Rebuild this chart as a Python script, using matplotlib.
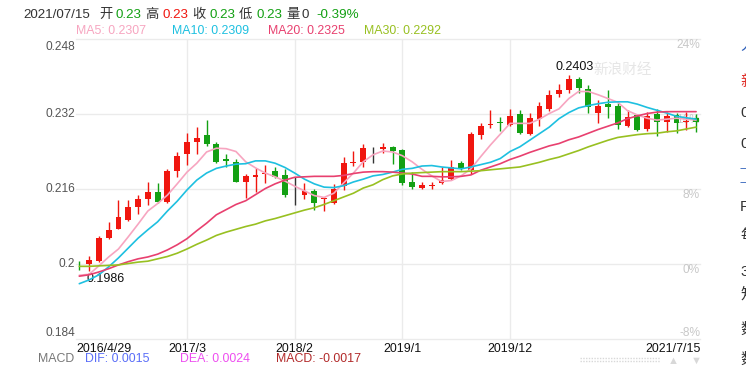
import matplotlib
matplotlib.use('Agg')
import matplotlib.pyplot as plt
import numpy as np

plt.rcParams['font.family'] = ['Liberation Sans', 'Noto Sans CJK SC', 'DejaVu Sans']

# ---------------- data (monthly candles 2016/4 .. 2021/7) ----------------
opens = [0.2001, 0.2000, 0.2007, 0.2056, 0.2074, 0.2094, 0.2122, 0.2138, 0.2154, 0.2132,
         0.2199, 0.2234, 0.2261, 0.2275, 0.2257, 0.2225, 0.2218, 0.2174, 0.2186, 0.2191,
         0.2199, 0.2190, 0.2151, 0.2148, 0.2156, 0.2138, 0.2130, 0.2166, 0.2216, 0.2218,
         0.2249, 0.2245, 0.2249, 0.2243, 0.2176, 0.2163, 0.2166, 0.2172, 0.2181, 0.2215,
         0.2201, 0.2275, 0.2297, 0.2304, 0.2297, 0.2321, 0.2277, 0.2309, 0.2331, 0.2362,
         0.2371, 0.2395, 0.2373, 0.2323, 0.2341, 0.2336, 0.2295, 0.2318, 0.2287, 0.2321,
         0.2304, 0.2318, 0.2303, 0.2311]
closes = [0.1999, 0.2009, 0.2056, 0.2073, 0.2100, 0.2121, 0.2138, 0.2154, 0.2132, 0.2198,
          0.2231, 0.2260, 0.2269, 0.2255, 0.2218, 0.2219, 0.2174, 0.2188, 0.2189, 0.2194,
          0.2186, 0.2147, 0.2151, 0.2156, 0.2130, 0.2140, 0.2161, 0.2216, 0.2218, 0.2247,
          0.2249, 0.2249, 0.2242, 0.2173, 0.2165, 0.2169, 0.2168, 0.2180, 0.2206, 0.2203,
          0.2277, 0.2294, 0.2299, 0.2301, 0.2316, 0.2280, 0.2311, 0.2337, 0.2361, 0.2371,
          0.2395, 0.2375, 0.2334, 0.2337, 0.2336, 0.2297, 0.2314, 0.2286, 0.2316, 0.2302,
          0.2316, 0.2301, 0.2306, 0.2302]
highs = [0.2006, 0.2018, 0.2060, 0.2090, 0.2137, 0.2137, 0.2147, 0.2176, 0.2173, 0.2202,
         0.2240, 0.2279, 0.2293, 0.2307, 0.2261, 0.2235, 0.2225, 0.2193, 0.2204, 0.2211,
         0.2206, 0.2203, 0.2185, 0.2172, 0.2161, 0.2142, 0.2170, 0.2229, 0.2241, 0.2256,
         0.2249, 0.2258, 0.2252, 0.2245, 0.2196, 0.2175, 0.2174, 0.2206, 0.2222, 0.2220,
         0.2282, 0.2301, 0.2329, 0.2314, 0.2330, 0.2329, 0.2323, 0.2345, 0.2371, 0.2384,
         0.2403, 0.2400, 0.2382, 0.2350, 0.2371, 0.2344, 0.2329, 0.2321, 0.2325, 0.2330,
         0.2325, 0.2322, 0.2325, 0.2320]
lows = [0.1988, 0.1986, 0.2005, 0.2053, 0.2074, 0.2092, 0.2107, 0.2126, 0.2131, 0.2131,
        0.2186, 0.2211, 0.2235, 0.2252, 0.2215, 0.2208, 0.2174, 0.2140, 0.2154, 0.2173,
        0.2183, 0.2144, 0.2126, 0.2139, 0.2115, 0.2113, 0.2128, 0.2158, 0.2210, 0.2208,
        0.2215, 0.2236, 0.2213, 0.2169, 0.2160, 0.2160, 0.2160, 0.2170, 0.2179, 0.2201,
        0.2192, 0.2266, 0.2290, 0.2284, 0.2294, 0.2277, 0.2275, 0.2294, 0.2327, 0.2357,
        0.2364, 0.2364, 0.2322, 0.2301, 0.2311, 0.2287, 0.2293, 0.2284, 0.2284, 0.2273,
        0.2282, 0.2279, 0.2286, 0.2282]

ma5 = [0.1976, 0.1978, 0.1996, 0.2015, 0.2032, 0.2058, 0.2085, 0.2113, 0.2129, 0.2147,
       0.2171, 0.2196, 0.2215, 0.2239, 0.2247, 0.2246, 0.2240, 0.2218, 0.2205, 0.2194,
       0.2186, 0.2177, 0.2166, 0.2156, 0.2146, 0.2142, 0.2151, 0.2173, 0.2194, 0.2218,
       0.2233, 0.2241, 0.2239, 0.2231, 0.2218, 0.2202, 0.2188, 0.2176, 0.2178, 0.2188,
       0.2203, 0.2229, 0.2254, 0.2277, 0.2300, 0.2300, 0.2300, 0.2309, 0.2321, 0.2331,
       0.2353, 0.2368, 0.2368, 0.2361, 0.2353, 0.2345, 0.2327, 0.2318, 0.2311, 0.2307,
       0.2309, 0.2311, 0.2309, 0.2307]
ma10 = [0.1958, 0.1966, 0.1977, 0.1994, 0.2013, 0.2034, 0.2055, 0.2073, 0.2090, 0.2113,
        0.2134, 0.2158, 0.2179, 0.2194, 0.2204, 0.2209, 0.2213, 0.2214, 0.2220, 0.2220,
        0.2215, 0.2206, 0.2194, 0.2181, 0.2171, 0.2164, 0.2163, 0.2167, 0.2175, 0.2181,
        0.2188, 0.2191, 0.2196, 0.2202, 0.2204, 0.2209, 0.2210, 0.2207, 0.2205, 0.2203,
        0.2207, 0.2212, 0.2217, 0.2225, 0.2240, 0.2250, 0.2264, 0.2278, 0.2292, 0.2310,
        0.2323, 0.2333, 0.2338, 0.2342, 0.2345, 0.2346, 0.2346, 0.2341, 0.2334, 0.2328,
        0.2322, 0.2315, 0.2312, 0.2309]
ma20 = [0.1974, 0.1977, 0.1983, 0.1990, 0.1998, 0.2005, 0.2011, 0.2015, 0.2021, 0.2030,
        0.2041, 0.2054, 0.2071, 0.2087, 0.2105, 0.2116, 0.2127, 0.2135, 0.2148, 0.2161,
        0.2171, 0.2179, 0.2185, 0.2186, 0.2187, 0.2187, 0.2187, 0.2189, 0.2193, 0.2196,
        0.2197, 0.2197, 0.2196, 0.2194, 0.2192, 0.2187, 0.2187, 0.2186, 0.2186, 0.2187,
        0.2190, 0.2200, 0.2207, 0.2214, 0.2223, 0.2230, 0.2238, 0.2245, 0.2252, 0.2257,
        0.2265, 0.2271, 0.2279, 0.2287, 0.2294, 0.2301, 0.2310, 0.2316, 0.2321, 0.2324,
        0.2325, 0.2325, 0.2325, 0.2325]
ma30 = [0.1995, 0.1995, 0.1996, 0.1997, 0.1998, 0.2001, 0.2004, 0.2006, 0.2011, 0.2016,
        0.2023, 0.2032, 0.2042, 0.2051, 0.2061, 0.2068, 0.2074, 0.2080, 0.2085, 0.2092,
        0.2097, 0.2103, 0.2109, 0.2115, 0.2120, 0.2127, 0.2135, 0.2143, 0.2151, 0.2162,
        0.2169, 0.2180, 0.2188, 0.2192, 0.2194, 0.2195, 0.2196, 0.2197, 0.2197, 0.2197,
        0.2198, 0.2199, 0.2201, 0.2203, 0.2205, 0.2207, 0.2212, 0.2217, 0.2223, 0.2228,
        0.2235, 0.2242, 0.2250, 0.2257, 0.2264, 0.2270, 0.2273, 0.2276, 0.2278, 0.2279,
        0.2282, 0.2284, 0.2288, 0.2292]

xtick_labels = ['2016/4/29', '2017/3', '2018/2', '2019/1', '2019/12', '2021/7/15']
xtick_index = [0, 11, 22, 33, 44, 63]
ytick_values = [0.248, 0.232, 0.216, 0.2, 0.184]
ytick_labels = ['0.248', '0.232', '0.216', '0.2', '0.184']
pct_labels = ['24%', '16%', '8%', '0%', '-8%']

header_texts = ['2021/07/15', '开', '0.23', '高', '0.23', '收', '0.23', '低', '0.23', '量', '0', '-0.39%']
legend_texts = ['MA5: 0.2307', 'MA10: 0.2309', 'MA20: 0.2325', 'MA30: 0.2292']
macd_texts = ['MACD', 'DIF: 0.0015', 'DEA: 0.0024', 'MACD: -0.0017']

# ---------------- styling ----------------
RED = '#f0160f'
GREEN = '#13a013'
DOJI = '#333333'
DARK = '#333333'
MA_COLORS = ['#f7a5c0', '#1ec0e0', '#e8406f', '#98c021']
GRID = '#ebebeb'

W, H = 746, 366
fig = plt.figure(figsize=(W / 100, H / 100), dpi=100)
fig.patch.set_facecolor('white')

def fx(px):
    return px / W

def fy(py):
    return 1 - py / H

L, R, T, B = 76, 700, 39, 339
ax = fig.add_axes([fx(L), fy(B), (R - L) / W, (B - T) / H])
ax.set_xlim(-0.337, 63.4)
ax.set_ylim(0.184, 0.248)
ax.set_axis_off()

n = len(opens)
x = np.arange(n)
o = np.array(opens); c = np.array(closes)
h = np.array(highs); lo = np.array(lows)

# grid
for v in ytick_values:
    ax.axhline(v, color=GRID, lw=1, zorder=0, clip_on=False)
for p in xtick_index[1:-1]:
    ax.axvline(p, color=GRID, lw=1, zorder=0)

# right-hand percentage labels (under the candles)
trans = ax.get_yaxis_transform()
for v, lab in zip(ytick_values, pct_labels):
    va = 'bottom' if v == ytick_values[-1] else 'top'
    ax.text(1.0, v, lab, transform=trans, ha='right', va=va, fontsize=8.6,
            color='#c8c8c8', zorder=1)

# watermark
fig.text(fx(593), fy(70), '新浪财经', fontsize=10.5, color='#c8c8c8', alpha=0.45,
         ha='left', va='center')

# candles
cols = np.where(c > o, RED, np.where(c < o, GREEN, DOJI))
ax.vlines(x, lo, h, colors=cols, lw=1.0, zorder=2)
body_h = np.maximum(np.abs(c - o), 0.00012)
ax.bar(x, body_h, bottom=np.minimum(o, c), width=0.6, color=cols, zorder=3, linewidth=0)

# moving averages
for series, col in zip([ma5, ma10, ma20, ma30], MA_COLORS):
    ax.plot(x, series, color=col, lw=1.2, zorder=4, solid_capstyle='round')

# max / min annotations
imax = int(np.argmax(h)); imin = int(np.argmin(lo))
ax.annotate(f'{h[imax]:.4f}', (imax, h[imax]), xytext=(6, 2), textcoords='offset pixels',
            ha='center', va='bottom', fontsize=9, color='#111111', zorder=5)
ax.annotate(f'{lo[imin]:.4f}', (imin, lo[imin]), xytext=(-3, -2), textcoords='offset pixels',
            ha='left', va='top', fontsize=9, color='#111111', zorder=3.5)

# left y labels
for v, lab in zip(ytick_values, ytick_labels):
    py = T + (0.248 - v) / 0.064 * (B - T)
    if v == ytick_values[0]:
        py = py + 8
    elif v == ytick_values[-1]:
        py = py - 6
    fig.text(fx(75), fy(py), lab, ha='right', va='center', fontsize=8.6, color='#555555')

# x labels
for i, lab in zip(xtick_index, xtick_labels):
    if i == xtick_index[0]:
        fig.text(fx(L), fy(348.5), lab, ha='left', va='center', fontsize=8.9, color='#111111')
    elif i == xtick_index[-1]:
        fig.text(fx(R + 1), fy(348.5), lab, ha='right', va='center', fontsize=8.9, color='#111111')
    else:
        xd = ax.transData.transform((i, 0))[0]
        fig.text(xd / fig.dpi / fig.get_figwidth(), fy(348.5), lab, ha='center', va='center',
                 fontsize=8.9, color='#111111')

# header line
header_colors = [DARK, DARK, GREEN, DARK, RED, DARK, GREEN, DARK, GREEN, DARK, DARK, GREEN]
header_x = [23, 99, 116, 145.5, 162.5, 192.5, 209, 239, 256.5, 286.5, 301, 316.5]
for t, col, px in zip(header_texts, header_colors, header_x):
    fig.text(fx(px), fy(15), t, ha='left', va='center', fontsize=9.6, color=col)

# MA legend line
legend_x = [76, 172, 268, 364]
for t, col, px in zip(legend_texts, MA_COLORS, legend_x):
    fig.text(fx(px), fy(31), t, ha='left', va='center', fontsize=8.9, color=col)

# MACD line
macd_colors = ['#777777', '#5a6ef8', '#ee4ff0', '#b22a2a']
macd_x = [38, 85, 180, 276]
for t, col, px in zip(macd_texts, macd_colors, macd_x):
    fig.text(fx(px), fy(359.5), t, ha='left', va='center', fontsize=8.9, color=col)

# bottom scroll control
for yy in (358, 361):
    fig.add_artist(plt.Line2D([fx(580), fx(660)], [fy(yy), fy(yy)], color='#d8d8d8', lw=1,
                              linestyle=(0, (1, 1))))
fig.text(fx(673), fy(361), '▲', ha='center', va='center', fontsize=8, color='#d8d8d8')
fig.text(fx(696), fy(361), '▼', ha='center', va='center', fontsize=8, color='#d8d8d8')

# cut-off side panel text (partly outside the frame, as in the reference)
side = [('人', '#2a5cb8', 45, 11), ('新', '#e0302a', 82, 11), ('0', DARK, 113, 11),
        ('0', DARK, 144, 11), ('一', '#2a5cb8', 168, 7), ('一', '#2a5cb8', 182, 7),
        ('P', DARK, 207, 11), ('每', DARK, 236, 11), ('3', DARK, 272, 11),
        ('知', DARK, 294, 11), ('数', DARK, 330, 11), ('数', DARK, 360, 11)]
for t, col, py, fs in side:
    fig.text(fx(740), fy(py), t, ha='left', va='center', fontsize=fs, color=col)

fig.savefig('out.png', dpi=100, facecolor='white')
